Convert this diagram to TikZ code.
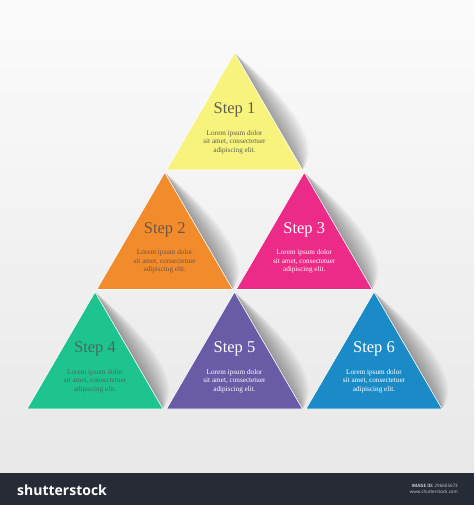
\documentclass[tikz,border=0pt]{standalone}
\usepackage{fontspec}
\setmainfont{Liberation Serif}
\newfontfamily\barfont{Open Sans}
\definecolor{cYellow}{HTML}{F8F37C}
\definecolor{cOrange}{HTML}{F28B2B}
\definecolor{cPink}{HTML}{EC2A87}
\definecolor{cGreen}{HTML}{1EC490}
\definecolor{cPurple}{HTML}{6A5BA7}
\definecolor{cBlue}{HTML}{1B8BC8}
\definecolor{tDark}{HTML}{5E5E50}
\definecolor{tBrown}{HTML}{6E5646}
\definecolor{tGreen}{HTML}{4A6A5E}
\definecolor{barbg}{HTML}{262B36}
\tikzset{
  tri/.style={draw=white, line width=0.6pt},
  shadowlayer/.style={fill=black, opacity=0.028},
  steplabel/.style={font=\fontsize{16.5}{18}\selectfont, inner sep=0pt},
  bodytext/.style={font=\fontsize{7.2}{8.3}\selectfont, align=center, inner sep=0pt}
}
\newcommand\steptri[6]{%
  \coordinate (#1a) at (#2,#3-117);
  \coordinate (#1l) at (#2-68,#3);
  \coordinate (#1r) at (#2+68,#3);
  \foreach \b in {3,6,...,42}{%
    \fill[shadowlayer] (#1a) .. controls (#2+22+\b*0.5,#3-82) and (#2+50+\b,#3-30) .. (#1r) -- cycle;
  }
  \fill[#4, tri] (#1a) -- (#1l) -- (#1r) -- cycle;
  \node[steplabel, text=#5] (#1t) at (#2,#3-60) {#6};
  \node[bodytext, text=#5] (#1b) at (#2,#3-28) {Lorem ipsum dolor\\sit amet, consectetuer\\adipiscing elit.};
}
\begin{document}
\begin{tikzpicture}[x=1pt,y=-1pt]
\useasboundingbox (0,0) rectangle (474,505);
\shade[top color=gray!3, bottom color=gray!18] (0,0) rectangle (474,473);
\steptri{s1}{234.5}{170}{cYellow}{tDark}{Step 1}
\steptri{s2}{164.75}{289.5}{cOrange}{tBrown}{Step 2}
\steptri{s3}{304.25}{289.5}{cPink}{white}{Step 3}
\steptri{s4}{95}{409}{cGreen}{tGreen}{Step 4}
\steptri{s5}{234.5}{409}{cPurple}{white}{Step 5}
\steptri{s6}{374}{409}{cBlue}{white}{Step 6}
\fill[barbg] (0,473) rectangle (474,505);
\node[anchor=west, text=white, font=\barfont\bfseries\fontsize{14}{16}\selectfont, inner sep=0pt] (logo) at (17,490) {shutterstock};
\node[anchor=east, text=white!75!barbg, font=\barfont\fontsize{4.5}{6}\selectfont, align=right, inner sep=0pt] (imgid) at (458,489) {\textbf{IMAGE ID:} 296605673\\www.shutterstock.com};
\end{tikzpicture}
\end{document}
